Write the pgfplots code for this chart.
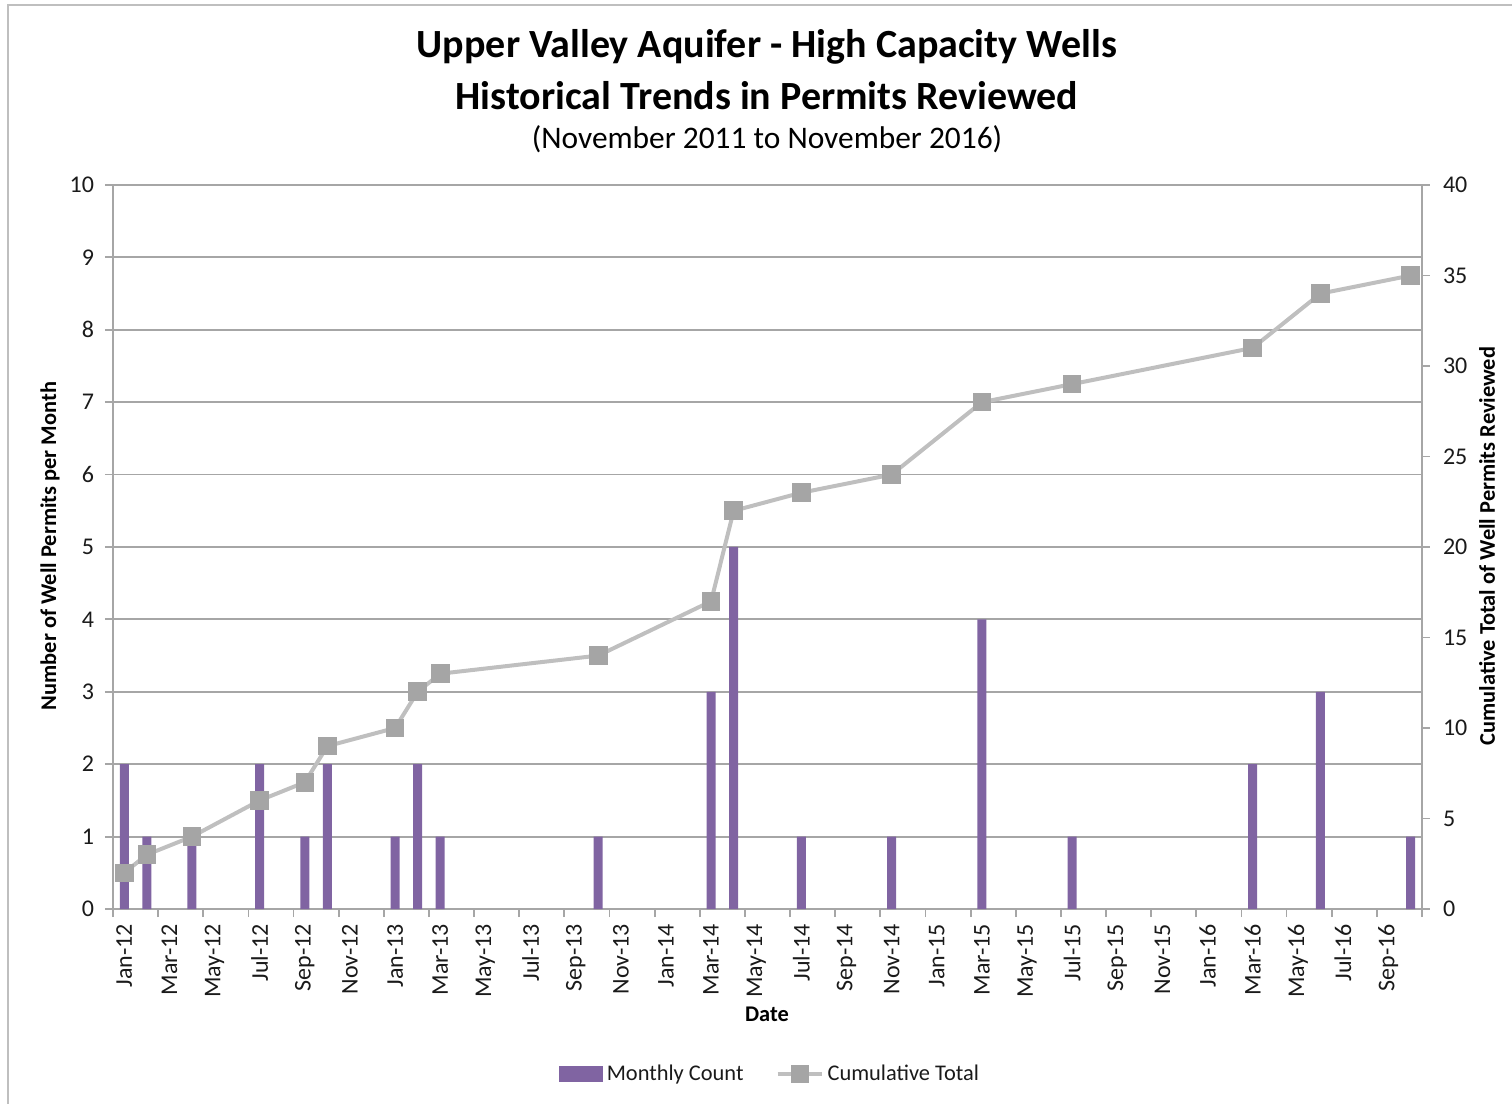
\documentclass[border=0pt]{standalone}
\usepackage{pgfplots}
\pgfplotsset{compat=1.18}
\usepackage{fontspec}
\setmainfont{Carlito}
\definecolor{barpurple}{HTML}{8064A2}
\definecolor{linegray}{HTML}{BFBFBF}
\definecolor{markgray}{HTML}{A5A5A5}
\definecolor{axgray}{HTML}{A6A6A6}
\definecolor{txt}{HTML}{1A1A1A}
\begin{document}
\begin{tikzpicture}
\begin{axis}[
  at={(0pt,0pt)}, anchor=south west,
  scale only axis, width=654.5pt, height=362pt,
  xmin=-0.5, xmax=57.5, ymin=0, ymax=10,
  xtick={0,2,...,56},
  xticklabels={Jan-12,Mar-12,May-12,Jul-12,Sep-12,Nov-12,Jan-13,Mar-13,May-13,Jul-13,Sep-13,Nov-13,Jan-14,Mar-14,May-14,Jul-14,Sep-14,Nov-14,Jan-15,Mar-15,May-15,Jul-15,Sep-15,Nov-15,Jan-16,Mar-16,May-16,Jul-16,Sep-16},
  xtick style={draw=none},
  extra x ticks={-0.5,1.5,...,57.5},
  extra x tick labels={},
  extra x tick style={grid=none, xtick style={draw=axgray, line width=0.9pt}},
  ytick={0,...,10},
  ymajorgrids, grid style={draw=axgray, line width=0.9pt},
  tick align=outside, tick pos=left, major tick length=4pt,
  axis line style={draw=axgray, line width=0.9pt},
  ytick style={draw=axgray, line width=0.9pt},
  ticklabel style={font=\fontsize{12}{14}\selectfont, text=txt},
  xticklabel style={rotate=90, anchor=east},
  yticklabel style={xshift=-2pt},
  /pgf/number format/assume math mode=true,
  ybar, bar width=4.5pt,
]
\addplot[fill=barpurple, draw=none] coordinates {
 (0,2) (1,1) (3,1) (6,2) (8,1) (9,2) (12,1) (13,2) (14,1) (21,1)
 (26,3) (27,5) (30,1) (34,1) (38,4) (42,1) (50,2) (53,3) (57,1)};
\end{axis}
\begin{axis}[
  at={(0pt,0pt)}, anchor=south west,
  scale only axis, width=654.5pt, height=362pt,
  xmin=-0.5, xmax=57.5, ymin=0, ymax=40,
  axis x line=none, axis y line*=right,
  ytick={0,5,...,40}, tick align=outside, major tick length=4pt,
  axis line style={draw=axgray, line width=0.9pt},
  ytick style={draw=axgray, line width=0.9pt},
  ticklabel style={font=\fontsize{12}{14}\selectfont, text=txt},
  yticklabel style={xshift=3pt},
  /pgf/number format/assume math mode=true,
  legend style={at={(0.5027,-0.2279)}, anchor=center, draw=none, fill=none,
    font=\fontsize{11.2}{13}\selectfont, text=txt, legend columns=2,
    /tikz/every even column/.append style={column sep=14pt}},
]
\addlegendimage{legend image code/.code={\fill[barpurple] (0pt,-3.75pt) rectangle (21.5pt,3.75pt);}}
\addlegendentry{Monthly Count}
\addplot[linegray, line width=2pt, mark=square*, mark size=4.4pt,
  mark options={fill=markgray, draw=markgray, line width=0pt},
  legend image code/.code={\draw[linegray,line width=2pt] (0pt,0pt) -- (22pt,0pt); \fill[markgray] (7.5pt,-3.5pt) rectangle (14.5pt,3.5pt);}]
 coordinates {
 (0,2) (1,3) (3,4) (6,6) (8,7) (9,9) (12,10) (13,12) (14,13) (21,14)
 (26,17) (27,22) (30,23) (34,24) (38,28) (42,29) (50,31) (53,34) (57,35)};
\addlegendentry{Cumulative Total}
\end{axis}
\node[font=\fontsize{20}{22}\selectfont\bfseries] at (327pt,431pt) {Upper Valley Aquifer - High Capacity Wells};
\node[font=\fontsize{20}{22}\selectfont\bfseries] at (327pt,406.5pt) {Historical Trends in Permits Reviewed};
\node[font=\fontsize{15.7}{18}\selectfont] at (327pt,385pt) {(November 2011 to November 2016)};
\node[font=\fontsize{11.2}{13}\selectfont\bfseries, rotate=90] at (-31.5pt,181.5pt) {Number of Well Permits per Month};
\node[font=\fontsize{11.2}{13}\selectfont\bfseries, rotate=90] at (687pt,181.5pt) {Cumulative Total of Well Permits Reviewed};
\node[font=\fontsize{11.2}{13}\selectfont\bfseries] at (327pt,-52.5pt) {Date};
\draw[linegray, line width=1pt] (-52.5pt,-120pt) -- (-52.5pt,452pt) -- (720pt,452pt);
\pgfresetboundingbox
\path[use as bounding box] (-56.5pt,-97.5pt) rectangle (699.5pt,454.5pt);
\end{tikzpicture}
\end{document}
